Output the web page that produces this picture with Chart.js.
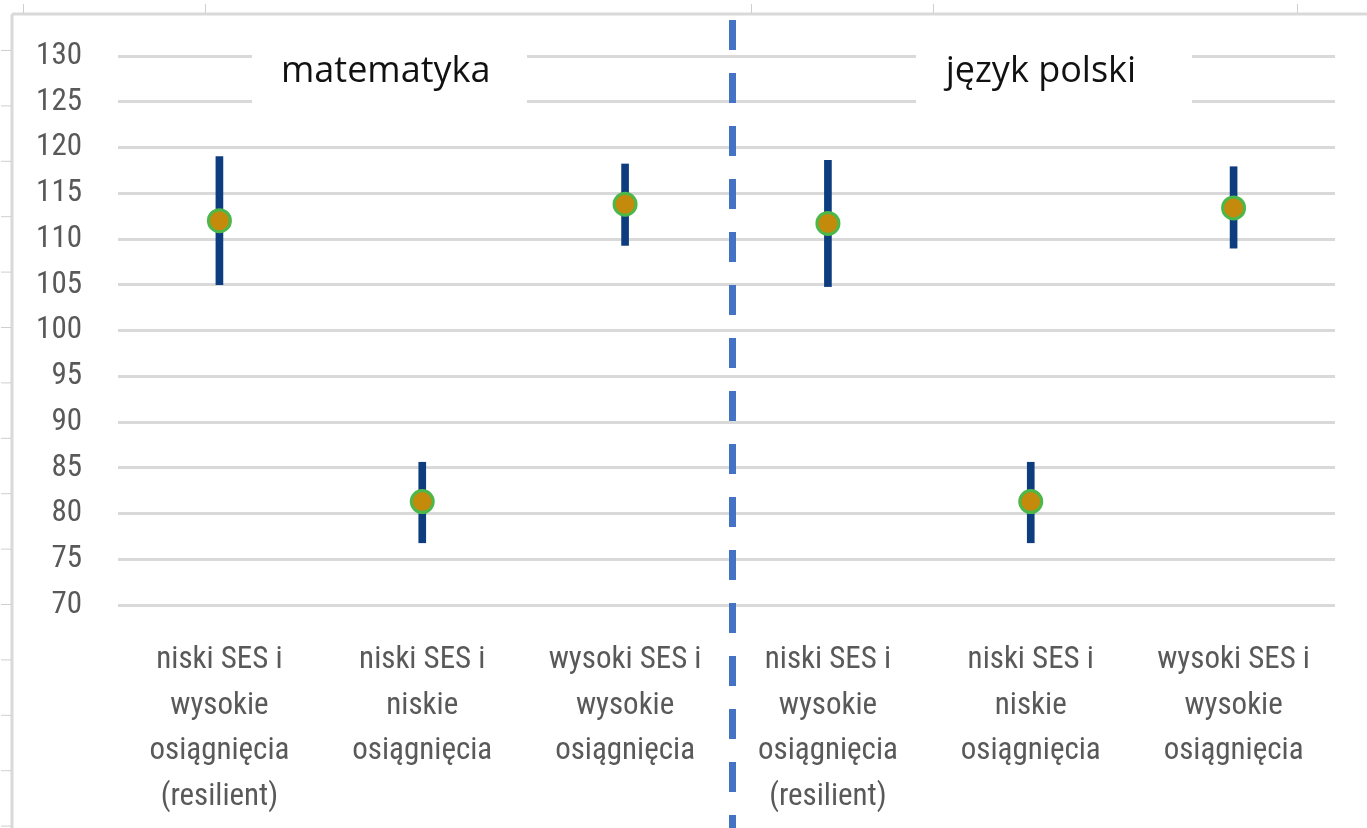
<!DOCTYPE html>
<html>
<head>
<meta charset="utf-8">
<script src="https://cdn.jsdelivr.net/npm/chart.js@4/dist/chart.umd.min.js"></script>
<style>
  html, body { margin: 0; padding: 0; background: #fff; }
  #box { width: 1367px; height: 828px; position: relative; }
</style>
</head>
<body>
<div id="box"><canvas id="wykres"></canvas></div>
<script>
const categories = [
  ['niski SES i', 'wysokie', 'osiągnięcia', '(resilient)'],
  ['niski SES i', 'niskie', 'osiągnięcia'],
  ['wysoki SES i', 'wysokie', 'osiągnięcia'],
  ['niski SES i', 'wysokie', 'osiągnięcia', '(resilient)'],
  ['niski SES i', 'niskie', 'osiągnięcia'],
  ['wysoki SES i', 'wysokie', 'osiągnięcia']
];
const means = [112.0, 81.3, 113.8, 111.7, 81.3, 113.4];
const lower = [105.0, 76.8, 109.3, 104.8, 76.8, 109.0];
const upper = [119.0, 85.6, 118.2, 118.6, 85.6, 117.9];
const yTicks = [70, 75, 80, 85, 90, 95, 100, 105, 110, 115, 120, 125, 130];
const panelTitles = ['matematyka', 'język polski'];

const ctx = document.getElementById('wykres').getContext('2d');

// ramka arkusza w tle (zrzut z Excela)
const ramka = {
  id: 'ramka',
  beforeDraw(chart) {
    const c = chart.ctx;
    c.save();
    c.strokeStyle = '#d9d9d9';
    c.lineWidth = 3;
    c.beginPath();
    c.moveTo(12, 14); c.lineTo(chart.width, 14);
    c.moveTo(12, 14); c.lineTo(12, chart.height);
    c.stroke();
    c.lineWidth = 1;
    c.strokeStyle = '#cfcfcf';
    c.beginPath();
    [23, 205, 751, 933, 1297].forEach(x => { c.moveTo(x + 0.5, 4); c.lineTo(x + 0.5, 13); });
    for (let y = 50; y < chart.height; y += 55.4) { c.moveTo(1, y + 0.5); c.lineTo(11, y + 0.5); }
    c.stroke();
    c.restore();
  }
};

// tytuły paneli na białym tle
const tytuly = {
  id: 'tytuly',
  beforeDatasetsDraw(chart) {
    const c = chart.ctx, x = chart.scales.x, y = chart.scales.y;
    const pos = [0.82, 4.05];
    const boxes = [[252, 527], [916, 1192]];
    c.save();
    panelTitles.forEach((t, i) => {
      c.fillStyle = '#ffffff';
      c.fillRect(boxes[i][0], y.getPixelForValue(131.5), boxes[i][1] - boxes[i][0], y.getPixelForValue(122.5) - y.getPixelForValue(131.5));
      c.fillStyle = '#111111';
      c.font = '36px "Open Sans", "Noto Sans", sans-serif';
      c.textAlign = 'center';
      c.textBaseline = 'alphabetic';
      c.fillText(t, x.getPixelForValue(pos[i]), 82);
    });
    c.restore();
  }
};

// przerywana linia między panelami
const podzial = {
  id: 'podzial',
  afterDraw(chart) {
    const c = chart.ctx, x = chart.scales.x;
    const px = (x.getPixelForValue(2) + x.getPixelForValue(3)) / 2 + 6;
    c.save();
    c.strokeStyle = '#4472c4';
    c.lineWidth = 7;
    c.setLineDash([30, 23]);
    c.beginPath();
    c.moveTo(px, 20);
    c.lineTo(px, chart.height);
    c.stroke();
    c.restore();
  }
};

new Chart(ctx, {
  type: 'bar',
  data: {
    labels: categories,
    datasets: [
      {
        type: 'line',
        label: 'średnia',
        data: means,
        showLine: false,
        pointRadius: 11,
        pointBorderWidth: 3,
        pointBackgroundColor: '#c48a0c',
        pointBorderColor: '#4cb84a',
        order: 0
      },
      {
        type: 'bar',
        label: 'przedział',
        data: lower.map((l, i) => [l, upper[i]]),
        backgroundColor: '#0d3d7e',
        barThickness: 7,
        borderSkipped: false,
        order: 1
      }
    ]
  },
  options: {
    responsive: true,
    maintainAspectRatio: false,
    animation: false,
    layout: { padding: { left: 0, right: 32, top: 56, bottom: 0 } },
    plugins: {
      legend: { display: false },
      tooltip: { enabled: false }
    },
    scales: {
      x: {
        offset: true,
        grid: { display: false, drawTicks: false },
        border: { display: false },
        ticks: {
          color: '#595959',
          padding: 32,
          maxRotation: 0,
          autoSkip: false,
          font: { family: '"Roboto Condensed", Roboto, sans-serif', size: 31, lineHeight: 1.48 }
        },
        afterFit(scale) { scale.height = 223; }
      },
      y: {
        min: 70,
        max: 130,
        afterBuildTicks(scale) { scale.ticks = yTicks.map(v => ({ value: v })); },
        grid: { color: '#d9d9d9', lineWidth: 3, drawTicks: false },
        border: { display: false },
        ticks: {
          color: '#595959',
          padding: 36,
          font: { family: '"Roboto Condensed", Roboto, sans-serif', size: 31 }
        },
        afterFit(scale) { scale.width = 118; }
      }
    }
  },
  plugins: [ramka, tytuly, podzial]
});
</script>
</body>
</html>
